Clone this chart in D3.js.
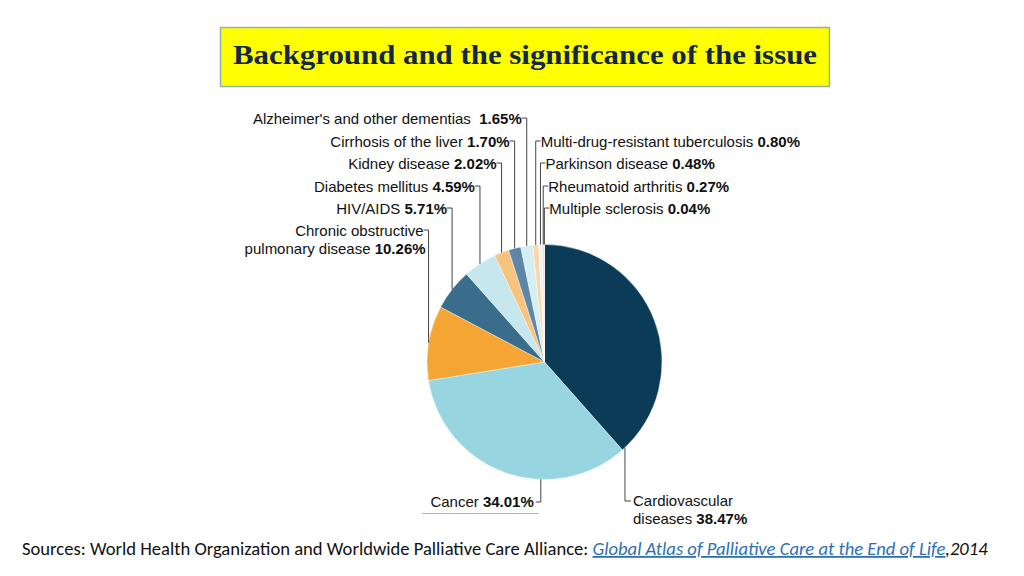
<!DOCTYPE html>
<html><head><meta charset="utf-8">
<script src="https://cdn.jsdelivr.net/npm/d3@7"></script>
<style>body{margin:0;background:#fff;} svg{display:block;}</style>
</head><body>
<svg id="c" width="1024" height="576"></svg>
<script>
const categories = ["Cardiovascular diseases","Cancer","Chronic obstructive pulmonary disease","HIV/AIDS","Diabetes mellitus","Kidney disease","Cirrhosis of the liver","Alzheimer's and other dementias","Multi-drug-resistant tuberculosis","Parkinson disease","Rheumatoid arthritis","Multiple sclerosis"];
const values = [38.47,34.01,10.26,5.71,4.59,2.02,1.70,1.65,0.80,0.48,0.27,0.04];
const colors = ["#0c3b57","#97d5e1","#f4a533","#3a6c8b","#c6e7ed","#f8c37c","#5d87a7","#d5eef3","#fbd6a6","#e9f5f8","#f6dcc0","#ffffff"];
const labelNames = [["Cardiovascular","diseases "],["Cancer "],["Chronic obstructive","pulmonary disease "],["HIV/AIDS "],["Diabetes mellitus "],["Kidney disease "],["Cirrhosis of the liver "],["Alzheimer's and other dementias\u00a0\u00a0"],["Multi-drug-resistant tuberculosis "],["Parkinson disease "],["Rheumatoid arthritis "],["Multiple sclerosis "]];
const pctLabels = ["38.47%","34.01%","10.26%","5.71%","4.59%","2.02%","1.70%","1.65%","0.80%","0.48%","0.27%","0.04%"];
const titleText = "Background and the significance of the issue";
const sourceText = "Sources: World Health Organization and Worldwide Palliative Care Alliance: ";
const linkText = "Global Atlas of Palliative Care at the End of Life";
const yearText = ",2014";

const svg = d3.select("#c");
// title box
svg.append("rect").attr("x",220.5).attr("y",27.5).attr("width",609).attr("height",59)
  .attr("fill","#ffff00").attr("stroke","#93b3a8").attr("stroke-width",1.5);
svg.append("text").attr("x",525).attr("y",64).attr("text-anchor","middle")
  .attr("font-family","'Liberation Serif','Times New Roman',serif").attr("font-weight","bold")
  .attr("font-size",28).attr("fill","#14254a").attr("textLength",584).attr("lengthAdjust","spacingAndGlyphs")
  .text(titleText);

const cx = 544.5, cy = 362, r = 117.5;
const pie = d3.pie().sort(null).value(d=>d)(values);
const arc = d3.arc().innerRadius(0).outerRadius(r);
const g = svg.append("g").attr("transform",`translate(${cx},${cy})`);
g.selectAll("path").data(pie).join("path").attr("d",arc)
  .attr("fill",(d,i)=>colors[i]).attr("stroke","#fff").attr("stroke-width",0.4);

const font = "'Liberation Sans',Arial,sans-serif";
const fs = 15;
const side = ["cv","ca","L","L","L","L","L","L","R","R","R","R"];
const rowY = [501,502,231,209,187,164,142,119,142,164,187,209];
const angleOf = (d,i)=>{
  if(i===0) return d.endAngle - 0.03;
  if(i===1) return Math.PI*1.01;
  return (d.startAngle+d.endAngle)/2;
};
const ln = svg.append("g").attr("fill","none").attr("stroke","#444").attr("stroke-width",1);
const tx = svg.append("g").attr("font-family",font).attr("font-size",fs).attr("fill","#111");
pie.forEach((d,i)=>{
  const a = angleOf(d,i);
  const px = cx + r*Math.sin(a), py = cy - r*Math.cos(a);
  const y = rowY[i];
  if(side[i]==="L"){
    ln.append("path").attr("d",`M${px-5},${y-1}H${px}V${py}`);
    const t = tx.append("text").attr("x",px-5).attr("y",y+5).attr("text-anchor","end");
    if(labelNames[i].length===2){
      t.text(labelNames[i][0]);
      const t2 = tx.append("text").attr("x",px-3).attr("y",y+23).attr("text-anchor","end");
      t2.append("tspan").text(labelNames[i][1]);
      t2.append("tspan").attr("font-weight","bold").text(pctLabels[i]);
    } else {
      t.append("tspan").text(labelNames[i][0]);
      t.append("tspan").attr("font-weight","bold").text(pctLabels[i]);
    }
  } else if(side[i]==="R"){
    ln.append("path").attr("d",`M${px+5},${y-1}H${px}V${py}`);
    const t = tx.append("text").attr("x",px+5).attr("y",y+5);
    t.append("tspan").text(labelNames[i][0]);
    t.append("tspan").attr("font-weight","bold").text(pctLabels[i]);
  } else if(side[i]==="cv"){
    ln.append("path").attr("d",`M${px},${py}V${y}H${px+6}`);
    tx.append("text").attr("x",px+8).attr("y",y+5).text(labelNames[i][0]);
    const t2 = tx.append("text").attr("x",px+8).attr("y",y+23);
    t2.append("tspan").text(labelNames[i][1]);
    t2.append("tspan").attr("font-weight","bold").text(pctLabels[i]);
  } else {
    ln.append("path").attr("d",`M${px},${py}V${y}H${px-5}`);
    const t = tx.append("text").attr("x",px-7).attr("y",y+5).attr("text-anchor","end");
    t.append("tspan").text(labelNames[i][0]);
    t.append("tspan").attr("font-weight","bold").text(pctLabels[i]);
    svg.append("line").attr("x1",422).attr("x2",px-2).attr("y1",513.5).attr("y2",513.5)
      .attr("stroke","#f2a15c").attr("stroke-width",1.2);
  }
});

// footer
const ft = svg.append("text").attr("x",22).attr("y",555)
  .attr("font-family","Carlito,'Liberation Sans Narrow','Open Sans',sans-serif").attr("font-size",18).attr("fill","#111");
ft.append("tspan").text(sourceText);
ft.append("tspan").attr("font-style","italic").attr("fill","#2e6fb4").attr("text-decoration","underline").text(linkText);
ft.append("tspan").attr("font-style","italic").text(yearText);
const w = ft.node().getComputedTextLength();
ft.attr("transform",`translate(22,0) scale(${966/w},1) translate(-22,0)`);
</script>
</body></html>
